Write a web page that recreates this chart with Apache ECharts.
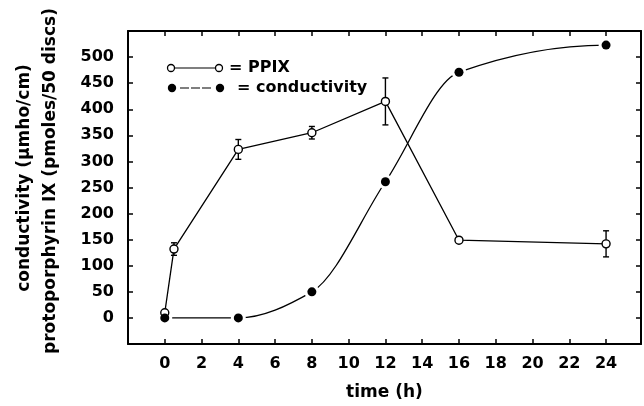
<!DOCTYPE html>
<html>
<head>
<meta charset="utf-8">
<script src="https://cdn.jsdelivr.net/npm/echarts@6/dist/echarts.min.js"></script>
<style>
html,body{margin:0;padding:0;background:#fff;}
#chart{width:644px;height:406px;}
</style>
</head>
<body>
<div id="chart"></div>
<script>
// ---- data ----
const ppixTime  = [0, 0.5, 4, 8, 12, 16, 24];
const ppixValue = [10, 132, 323, 355, 415, 149, 142];
const ppixErr   = [0, 12, 19, 12, 45, 0, 25];
const condTime  = [0, 4, 8, 12, 16, 24];
const condValue = [0, 0, 50, 261, 471, 523];
const xTicks = [0, 2, 4, 6, 8, 10, 12, 14, 16, 18, 20, 22, 24];
const yTicks = [0, 50, 100, 150, 200, 250, 300, 350, 400, 450, 500];
const xTitle = 'time (h)';
const yTitle1 = 'conductivity (\u03bcmho/cm)';
const yTitle2 = 'protoporphyrin IX (pmoles/50 discs)';
const legendPPIX = '= PPIX';
const legendCond = '= conductivity';

const FONT = 'DejaVu Sans';
const chart = echarts.init(document.getElementById('chart'), null, {renderer: 'canvas'});

const ppixData = ppixTime.map((t, i) => [t, ppixValue[i]]);
const errData = ppixTime.map((t, i) => [t, ppixValue[i] - ppixErr[i], ppixValue[i] + ppixErr[i]]).filter((d, i) => ppixErr[i] > 0);
const condData = condTime.map((t, i) => [t, condValue[i]]);

// monotone (Fritsch-Carlson) tangents used only to shape the smooth curve drawn through the measured points
function monotoneTangents(xs, ys) {
  const n = xs.length, h = [], d = [], m = new Array(n).fill(0);
  for (let i = 0; i < n - 1; i++) { h.push(xs[i + 1] - xs[i]); d.push((ys[i + 1] - ys[i]) / h[i]); }
  for (let i = 1; i < n - 1; i++) {
    if (d[i - 1] * d[i] <= 0) { m[i] = 0; continue; }
    const h0 = h[i - 1], h1 = h[i];
    m[i] = 3 * (h0 + h1) / ((2 * h1 + h0) / d[i - 1] + (h1 + 2 * h0) / d[i]);
  }
  function endSlope(h0, h1, d0, d1) {
    let s = ((2 * h0 + h1) * d0 - h0 * d1) / (h0 + h1);
    if (s * d0 <= 0) s = 0;
    else if (d0 * d1 <= 0 && Math.abs(s) > Math.abs(3 * d0)) s = 3 * d0;
    return s;
  }
  if (n > 2) {
    m[0] = endSlope(h[0], h[1], d[0], d[1]);
    m[n - 1] = endSlope(h[n - 2], h[n - 3], d[n - 2], d[n - 3]);
  }
  return m;
}
const condSlopes = monotoneTangents(condTime, condValue);
const condSegData = condTime.slice(0, -1).map((t, i) => [t, condValue[i], condTime[i + 1], condValue[i + 1], condSlopes[i], condSlopes[i + 1]]);

const axisLineStyle = {color: '#000', width: 2};
const tickStyle = {color: '#000', width: 1.5};
const labelStyle = {color: '#000', fontSize: 16, fontWeight: 'bold', fontFamily: FONT};

const option = {
  animation: false,
  backgroundColor: '#fff',
  textStyle: {fontFamily: FONT},
  grid: {left: 128, top: 31, width: 515, height: 318, containLabel: false},
  xAxis: [
    {
      type: 'value', min: -2, max: 25.9, interval: 2,
      axisLine: {onZero: false, lineStyle: axisLineStyle},
      axisTick: {inside: true, length: 5, lineStyle: tickStyle},
      axisLabel: Object.assign({margin: 12, formatter: v => xTicks.includes(v) ? String(v) : ''}, labelStyle),
      splitLine: {show: false},
      name: xTitle, nameLocation: 'middle', nameGap: 40,
      nameTextStyle: {color: '#000', fontSize: 17, fontWeight: 'bold', fontFamily: FONT}
    },
    {
      type: 'value', position: 'top', min: -2, max: 25.9, interval: 2,
      axisLine: {onZero: false, lineStyle: axisLineStyle},
      axisTick: {inside: true, length: 5, lineStyle: tickStyle},
      axisLabel: {show: false},
      splitLine: {show: false}
    }
  ],
  yAxis: [
    {
      type: 'value', min: -50, max: 550, interval: 50,
      axisLine: {show: true, onZero: false, lineStyle: axisLineStyle},
      axisTick: {show: true, inside: true, length: 5, lineStyle: tickStyle},
      axisLabel: Object.assign({margin: 14, formatter: v => yTicks.includes(v) ? String(v) : ''}, labelStyle),
      splitLine: {show: false}
    },
    {
      type: 'value', position: 'right', min: -50, max: 550, interval: 50,
      axisLine: {show: true, onZero: false, lineStyle: axisLineStyle},
      axisTick: {show: true, inside: true, length: 5, lineStyle: tickStyle},
      axisLabel: {show: false},
      splitLine: {show: false}
    }
  ],
  graphic: [
    {type: 'text', x: 25, y: 178, rotation: Math.PI / 2,
     style: {text: yTitle1, fill: '#000', font: 'bold 17px "DejaVu Sans"', textAlign: 'center', textVerticalAlign: 'middle'}},
    {type: 'text', x: 51, y: 181, rotation: Math.PI / 2,
     style: {text: yTitle2, fill: '#000', font: 'bold 17px "DejaVu Sans"', textAlign: 'center', textVerticalAlign: 'middle'}},
    // legend
    {type: 'line', shape: {x1: 175, y1: 68, x2: 215, y2: 68}, style: {stroke: '#000', lineWidth: 1.2}},
    {type: 'circle', shape: {cx: 171, cy: 68, r: 3.5}, style: {fill: '#fff', stroke: '#000', lineWidth: 1.3}},
    {type: 'circle', shape: {cx: 219, cy: 68, r: 3.5}, style: {fill: '#fff', stroke: '#000', lineWidth: 1.3}},
    {type: 'text', x: 229, y: 68, style: {text: legendPPIX, fill: '#000', font: 'bold 16px "DejaVu Sans"', textVerticalAlign: 'middle'}},
    {type: 'line', shape: {x1: 180, y1: 88, x2: 211, y2: 88}, style: {stroke: '#000', lineWidth: 1.2, lineDash: [9, 2]}},
    {type: 'circle', shape: {cx: 172, cy: 88, r: 4.2}, style: {fill: '#000'}},
    {type: 'circle', shape: {cx: 220, cy: 88, r: 4.2}, style: {fill: '#000'}},
    {type: 'text', x: 237, y: 88, style: {text: legendCond, fill: '#000', font: 'bold 16px "DejaVu Sans"', textVerticalAlign: 'middle'}}
  ],
  series: [
    {
      name: 'conductivity', type: 'custom', data: condSegData, z: 1, silent: true,
      renderItem: function (params, api) {
        const t0 = api.value(0), y0 = api.value(1), t1 = api.value(2), y1 = api.value(3);
        const m0 = api.value(4), m1 = api.value(5);
        const h = (t1 - t0) / 3;
        const p0 = api.coord([t0, y0]);
        const p1 = api.coord([t1, y1]);
        const c0 = api.coord([t0 + h, y0 + m0 * h]);
        const c1 = api.coord([t1 - h, y1 - m1 * h]);
        return {
          type: 'bezierCurve',
          shape: {x1: p0[0], y1: p0[1], x2: p1[0], y2: p1[1], cpx1: c0[0], cpy1: c0[1], cpx2: c1[0], cpy2: c1[1]},
          style: {stroke: '#000', lineWidth: 1.3, fill: null}
        };
      }
    },
    {
      name: 'halo', type: 'scatter', data: condData, symbolSize: 15,
      itemStyle: {color: '#fff', opacity: 1}, z: 2, silent: true
    },
    {
      name: 'PPIX', type: 'line', data: ppixData, smooth: false,
      showSymbol: true, symbol: 'circle', symbolSize: 8,
      lineStyle: {color: '#000', width: 1.3},
      itemStyle: {color: '#fff', borderColor: '#000', borderWidth: 1.4},
      z: 4, silent: true
    },
    {
      name: 'PPIX error', type: 'custom', data: errData, z: 3, silent: true,
      renderItem: function (params, api) {
        const x = api.value(0);
        const lo = api.coord([x, api.value(1)]);
        const hi = api.coord([x, api.value(2)]);
        const w = 3;
        const st = {stroke: '#000', lineWidth: 1.4};
        return {type: 'group', children: [
          {type: 'line', shape: {x1: lo[0], y1: lo[1], x2: hi[0], y2: hi[1]}, style: st},
          {type: 'line', shape: {x1: lo[0] - w, y1: lo[1], x2: lo[0] + w, y2: lo[1]}, style: st},
          {type: 'line', shape: {x1: hi[0] - w, y1: hi[1], x2: hi[0] + w, y2: hi[1]}, style: st}
        ]};
      }
    },
    {
      name: 'conductivity points', type: 'scatter', data: condData, symbolSize: 9,
      itemStyle: {color: '#000', opacity: 1}, z: 5, silent: true
    }
  ]
};
chart.setOption(option);
</script>
</body>
</html>
